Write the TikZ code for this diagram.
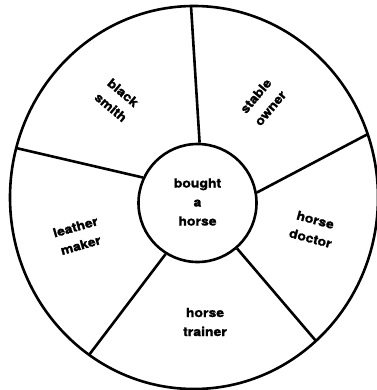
\documentclass[tikz,border=0pt]{standalone}
\usepackage{fontspec}
\setmainfont{TeX Gyre Heros}
\newfontfamily\lblfont[FakeStretch=1.12, FakeBold=1.5]{TeX Gyre Heros Bold}
\tikzset{
  ring/.style={line width=2.6pt},
  lbl/.style={font=\lblfont\fontsize{12.5}{19}\selectfont, align=center, inner sep=0pt},
}
\begin{document}
\begin{tikzpicture}[x=1pt,y=-1pt]
\useasboundingbox (0,0) rectangle (376,390);
% outer rim
\draw[ring] (194,197.5) ellipse [x radius=184, y radius=191.5];
% hub
\node[ring, draw, circle, minimum size=118pt, inner sep=0pt] (hub) at (197.5,203) {};
\node[lbl, text width=60pt] (hubtext) at (197.5,202) {bought\\a\\horse};
% outer ends of spokes
\coordinate (oTop) at (191,6);
\coordinate (oLeft) at (16,148);
\coordinate (oRight) at (368,134);
\coordinate (oLR) at (316,341);
\coordinate (oLL) at (89,355);
\draw[ring] (hub.88) -- (oTop);
\draw[ring] (hub.155) -- (oLeft);
\draw[ring] (hub.10) -- (oRight);
\draw[ring] (hub.-49) -- (oLR);
\draw[ring] (hub.-122) -- (oLL);
% sector labels
\node[lbl, rotate=-40] (bs) at (117,100) {black\\smith};
\node[lbl, rotate=50] (so) at (263,102) {stable\\owner};
\node[lbl, rotate=16] (lm) at (78,236) {leather\\maker};
\node[lbl, rotate=-15] (hd) at (313,229) {horse\\doctor};
\node[lbl] (ht) at (205,322) {horse\\trainer};
\end{tikzpicture}
\end{document}
